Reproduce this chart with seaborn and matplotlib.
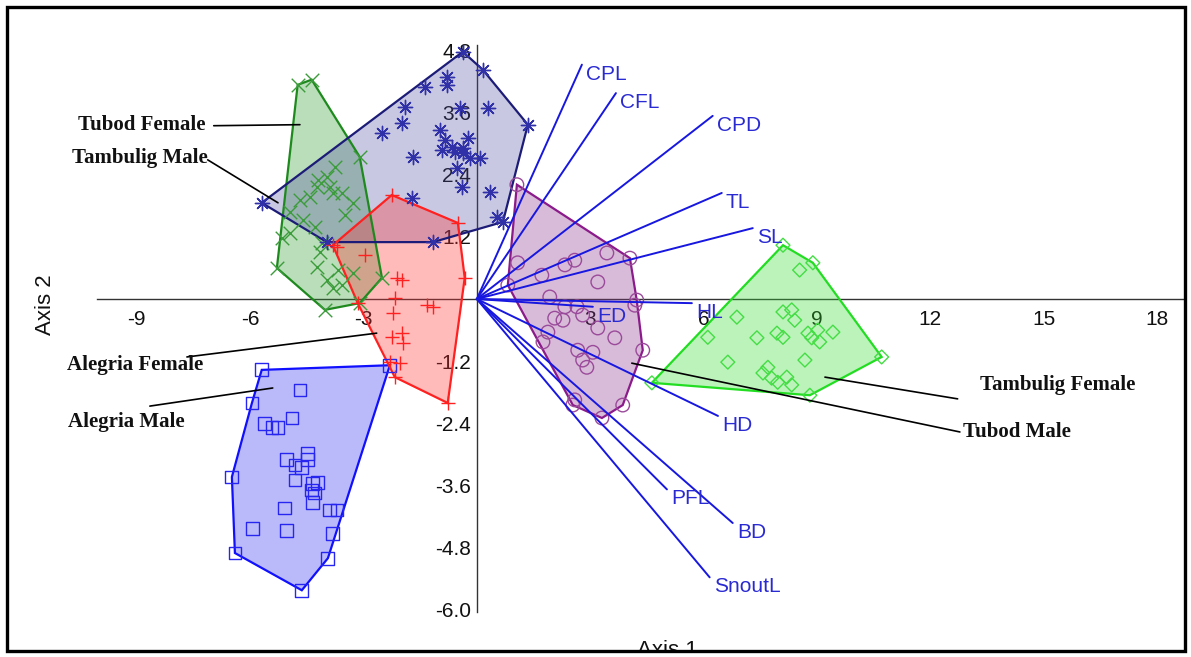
import numpy as np
import pandas as pd
import matplotlib
matplotlib.use("Agg")
import matplotlib.pyplot as plt
from matplotlib.patches import Rectangle
import seaborn as sns

# PCA scores (Axis 1, Axis 2)
alegria_male_x = [-5.69, -2.30, -6.48, -6.40, -4.63, -3.94, -3.81, -4.68, -5.95, -5.61, -5.42, -5.26, -4.89, -5.03,
                  -4.81, -4.63, -4.47, -4.47, -4.81, -4.34, -4.21, -4.37, -4.29, -4.34, -5.08, -3.89, -3.70, -5.93, -5.03]
alegria_male_y = [-1.37, -1.28, -3.44, -4.91, -5.63, -5.01, -4.53, -1.76, -2.01, -2.40, -2.48, -2.48, -2.30, -3.11,
                  -3.21, -3.25, -2.98, -3.11, -3.50, -3.56, -3.54, -3.69, -3.75, -3.93, -4.04, -4.08, -4.08, -4.43, -4.47]

tubod_female_x = [-4.74, -4.37, -3.10, -3.76, -3.97, -4.21, -3.81, -3.57, -3.28, -4.42, -4.68, -4.23, -3.89, -4.29,
                  -4.95, -4.10, -5.29, -5.16, -4.02, -3.10, -2.51, -4.15, -3.68, -3.97, -3.81, -3.57, -3.28, -4.23,
                  -4.60, -3.49, -4.95]
tubod_female_y = [4.14, 4.24, 2.75, 2.55, 2.36, 2.30, 2.05, 2.05, 1.86, 1.97, 1.91, 2.17, 2.17, 1.39,
                  1.28, 1.08, 0.60, 1.18, -0.21, -0.08, 0.41, 0.91, 0.56, 0.37, 0.21, 0.27, 0.50, 0.62,
                  1.53, 1.62, 1.68]

tambulig_male_x = [-0.37, 0.16, 1.35, -0.79, -0.79, -1.38, -1.90, -1.98, -2.51, 0.29, -0.45, -0.98, -0.24, -0.93,
                   -0.66, -0.37, -0.58, -0.37, -0.19, 0.08, -1.69, -0.53, -0.40, 0.34, -1.72, 0.53, 0.69, -1.16,
                   -3.97, -5.69, -0.85]
tambulig_male_y = [4.78, 4.43, 3.37, 4.29, 4.14, 4.10, 3.71, 3.40, 3.21, 3.69, 3.69, 3.27, 3.11, 2.88,
                   2.94, 2.92, 2.84, 2.82, 2.73, 2.73, 2.75, 2.53, 2.17, 2.07, 1.95, 1.59, 1.49, 1.10,
                   1.10, 1.86, 3.08]

alegria_female_x = [-2.25, -0.50, -0.32, -0.77, -2.17, -3.15, -3.70, -2.96, -2.12, -1.98, -2.17, -2.22, -2.25,
                    -1.98, -1.96, -1.32, -1.16, -2.30, -2.04, -3.81]
alegria_female_y = [2.01, 1.47, 0.41, -2.01, -1.51, -0.08, 1.01, 0.85, 0.41, 0.37, 0.02, -0.27, -0.74,
                    -0.66, -0.85, -0.12, -0.15, -1.22, -1.24, 1.04]

tubod_male_x = [1.06, 4.05, 4.18, 4.39, 3.86, 3.31, 2.54, 0.82, 1.08, 1.72, 2.33, 2.59, 3.44, 3.20, 1.93, 2.33,
                2.65, 2.06, 2.28, 2.80, 3.20, 3.65, 1.88, 1.75, 2.67, 3.07, 2.80, 2.91, 2.59, 4.23]
tubod_male_y = [2.21, 0.79, -0.12, -0.99, -2.05, -2.30, -2.05, 0.27, 0.70, 0.46, 0.66, 0.75, 0.89, 0.33, 0.04, -0.15,
                -0.15, -0.37, -0.41, -0.31, -0.56, -0.75, -0.64, -0.83, -0.99, -1.03, -1.18, -1.32, -1.95, -0.02]

tambulig_female_x = [8.10, 8.89, 10.71, 8.81, 4.63, 8.54, 6.88, 6.11, 7.41, 6.64, 8.68, 9.42, 8.10, 8.33, 8.41,
                     7.94, 8.10, 8.76, 8.86, 9.07, 9.02, 7.70, 7.57, 7.80, 7.96, 8.20, 8.33]
tambulig_female_y = [1.04, 0.70, -1.12, -1.86, -1.62, 0.56, -0.35, -0.74, -0.75, -1.22, -1.18, -0.64, -0.25, -0.21, -0.41,
                     -0.66, -0.74, -0.66, -0.75, -0.83, -0.60, -1.32, -1.43, -1.53, -1.61, -1.51, -1.66]

# loadings
vec_names = ['CPL', 'CFL', 'CPD', 'TL', 'SL', 'HL', 'ED', 'HD', 'PFL', 'BD', 'SnoutL']
vec_x = [2.78, 3.68, 6.24, 6.48, 7.30, 5.69, 3.07, 6.38, 5.03, 6.77, 6.16]
vec_y = [4.53, 3.98, 3.54, 2.05, 1.37, -0.08, -0.15, -2.26, -3.68, -4.33, -5.38]

x_ticks = [-9, -6, -3, 3, 6, 9, 12, 15, 18]
y_ticks = [4.8, 3.6, 2.4, 1.2, -1.2, -2.4, -3.6, -4.8, -6.0]

groups = {
    'Alegria Male': (alegria_male_x, alegria_male_y),
    'Tubod Female': (tubod_female_x, tubod_female_y),
    'Tambulig Male': (tambulig_male_x, tambulig_male_y),
    'Alegria Female': (alegria_female_x, alegria_female_y),
    'Tubod Male': (tubod_male_x, tubod_male_y),
    'Tambulig Female': (tambulig_female_x, tambulig_female_y),
}

# marker, point colour, hull colour, fill colour, fill alpha, size, filled-marker?
styles = {
    'Alegria Male': ('s', '#2626f0', '#1010ff', '#3030f0', 0.33, 85, True),
    'Tubod Female': ('x', '#3c9c3c', '#1e8a1e', '#2e992e', 0.33, 95, False),
    'Tambulig Male': ((8, 2, 0), '#3030a8', '#1c1c78', '#4a4aa0', 0.30, 105, False),
    'Alegria Female': ('+', '#ff2020', '#ff2020', '#ff3030', 0.33, 95, False),
    'Tubod Male': ('o', '#9a4a9a', '#8b1a8b', '#8b338b', 0.33, 95, True),
    'Tambulig Female': ('D', '#44dd44', '#22dd22', '#33dd33', 0.33, 50, True),
}

# label, text pos, leader line start, leader line end
annots = [
    ('Tubod Female', (-10.56, 3.37), (-6.96, 3.35), (-4.68, 3.37)),
    ('Tambulig Male', (-10.71, 2.73), (-7.12, 2.69), (-5.26, 1.86)),
    ('Alegria Female', (-10.85, -1.28), (-7.67, -1.12), (-2.65, -0.66)),
    ('Alegria Male', (-10.82, -2.38), (-8.65, -2.07), (-5.40, -1.72)),
    ('Tambulig Female', (13.31, -1.66), (9.21, -1.51), (12.72, -1.93)),
    ('Tubod Male', (12.86, -2.57), (4.10, -1.24), (12.78, -2.57)),
]


def hull(px, py):
    pts = sorted(set(zip(px, py)))
    def cross(o, a, b):
        return (a[0]-o[0])*(b[1]-o[1]) - (a[1]-o[1])*(b[0]-o[0])
    lower, upper = [], []
    for p in pts:
        while len(lower) >= 2 and cross(lower[-2], lower[-1], p) <= 0:
            lower.pop()
        lower.append(p)
    for p in reversed(pts):
        while len(upper) >= 2 and cross(upper[-2], upper[-1], p) <= 0:
            upper.pop()
        upper.append(p)
    h = np.array(lower[:-1] + upper[:-1])
    return h[:, 0], h[:, 1]


sns.set_style("white")
plt.rcParams['font.family'] = ['Liberation Sans', 'DejaVu Sans']

fig = plt.figure(figsize=(11.91, 6.57), dpi=100)
ax = fig.add_axes([0.0814, 0.0685, 0.9118, 0.863])

rows = []
for g, (gx, gy) in groups.items():
    for a, b in zip(gx, gy):
        rows.append((g, a, b))
df = pd.DataFrame(rows, columns=['group', 'x', 'y'])

for g in groups:
    m, pc, lc, fc, fa, s, filled = styles[g]
    sub = df[df.group == g]
    hx, hy = hull(sub.x.values, sub.y.values)
    ax.fill(hx, hy, facecolor=fc, alpha=fa, edgecolor='none', zorder=2)
    ax.fill(hx, hy, facecolor='none', edgecolor=lc, linewidth=1.6, zorder=3)
    if filled:
        sns.scatterplot(data=sub, x='x', y='y', marker=m, s=s, color=pc, facecolor='none',
                        edgecolor=pc, linewidth=1.0, ax=ax, zorder=4, legend=False)
    else:
        sns.scatterplot(data=sub, x='x', y='y', marker=m, s=s, color=pc,
                        linewidth=1.0, ax=ax, zorder=4, legend=False)

# biplot vectors
for n, vx, vy in zip(vec_names, vec_x, vec_y):
    ax.plot([0, vx], [0, vy], color='#1717e0', linewidth=1.4, zorder=5)
    ax.annotate(n, (vx, vy), xytext=(3, 0), textcoords='offset points', ha='left', va='top',
                color='#2a2ad2', fontsize=15, zorder=6)

# group labels
for lab, tp, l0, l1 in annots:
    ax.plot([l0[0], l1[0]], [l0[1], l1[1]], color='black', linewidth=1.2, zorder=7, clip_on=False)
    ax.text(tp[0], tp[1], lab, ha='left', va='center', fontsize=15, fontweight='bold',
            family=['Liberation Serif', 'DejaVu Serif'], color='#111111', zorder=7, clip_on=False)

ax.set_xlim(-10.05, 18.68)
ax.set_ylim(-6.05, 4.91)
ax.spines['left'].set_position(('data', 0))
ax.spines['bottom'].set_position(('data', 0))
ax.spines['top'].set_visible(False)
ax.spines['right'].set_visible(False)
for sp in ['left', 'bottom']:
    ax.spines[sp].set_color('#333333')
    ax.spines[sp].set_linewidth(1.0)
    ax.spines[sp].set_zorder(1)
ax.set_xticks(x_ticks)
ax.set_xticklabels([str(t) for t in x_ticks])
ax.set_yticks(y_ticks)
ax.set_yticklabels(['%.1f' % t for t in y_ticks])
ax.tick_params(axis='x', direction='out', length=4, width=0.8, labelsize=15, pad=4, colors='#111111')
ax.tick_params(axis='y', direction='out', length=3, width=0.8, labelsize=15, pad=1, colors='#111111')
ax.set_xlabel('')
ax.set_ylabel('')
ax.patch.set_alpha(0)

fig.text(45 / 1191, 1 - 305 / 657, 'Axis 2', rotation=90, ha='center', va='center', fontsize=16, color='#111111')
fig.text(667 / 1191, 1 - 651 / 657, 'Axis 1', ha='center', va='center', fontsize=16, color='#111111', zorder=5)
fig.patches.append(Rectangle((0, 0), 1, 1 - 651 / 657, transform=fig.transFigure, facecolor='white',
                             edgecolor='none', zorder=10))
fig.patches.append(Rectangle((7 / 1191, 1 - 651 / 657), 1178 / 1191, 644 / 657, transform=fig.transFigure,
                             facecolor='none', edgecolor='black', linewidth=2.4, zorder=11))

fig.savefig('out.png', dpi=100)
